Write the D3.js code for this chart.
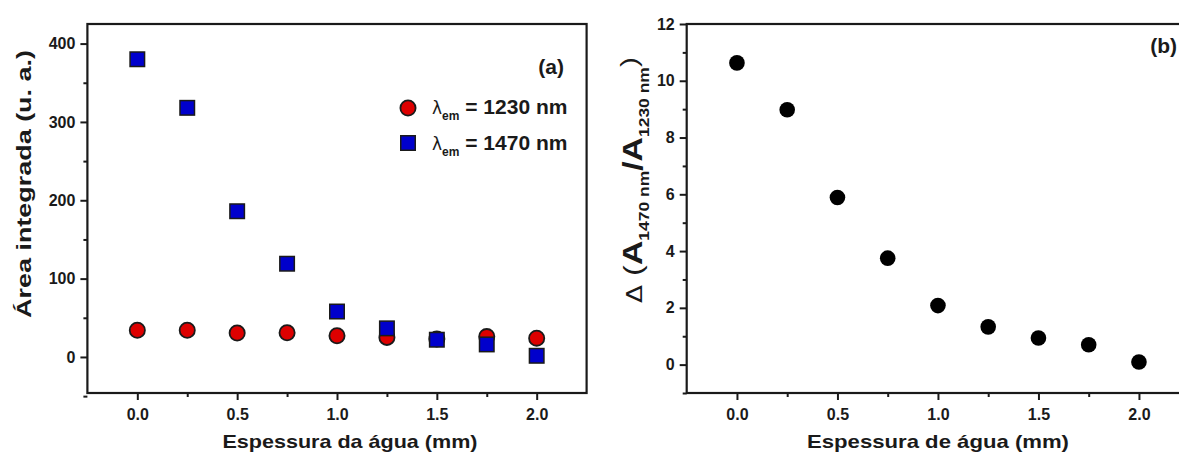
<!DOCTYPE html>
<html>
<head>
<meta charset="utf-8">
<script src="https://cdn.jsdelivr.net/npm/d3@7"></script>
<style>
  html, body { margin: 0; padding: 0; background: #ffffff; }
  svg { display: block; }
  text { font-family: "Liberation Sans", Arial, sans-serif; font-weight: bold; fill: #1a1a1a; }
</style>
</head>
<body>
<svg id="chart" width="1179" height="452"></svg>
<script>
// ---- data ----
const thickness = [0, 0.25, 0.5, 0.75, 1.0, 1.25, 1.5, 1.75, 2.0];
const area1230 = [34, 34, 30.5, 31, 27, 25, 23, 26, 24];
const area1470 = [380, 318, 186, 119, 58, 36.5, 22, 16, 1.5];
const deltaRatio = [10.63, 8.98, 5.89, 3.75, 2.08, 1.33, 0.94, 0.70, 0.09];

const xMajorTicks = [0, 0.5, 1.0, 1.5, 2.0];
const xMinorTicks = [0.25, 0.75, 1.25, 1.75];
const yMajorTicksA = [0, 100, 200, 300, 400];
const yMinorTicksA = [-50, 50, 150, 250, 350];
const yMajorTicksB = [0, 2, 4, 6, 8, 10, 12];
const yMinorTicksB = [-1, 1, 3, 5, 7, 9, 11];

const legendLabels = ["1230 nm", "1470 nm"];
const panelLabels = ["(a)", "(b)"];
const xTitleA = "Espessura da água (mm)";
const xTitleB = "Espessura de água (mm)";
const yTitleA = "Área integrada (u. a.)";

const svg = d3.select("#chart");
const ink = "#1a1a1a";

function drawAxes(g, x, y, yMaj, yMin, frameRight) {
  const [x0, x1] = x.range();
  const [yb, yt] = y.range();
  const bx = g.append("g").attr("transform", `translate(0,${yb})`)
    .call(d3.axisBottom(x).tickValues(xMajorTicks).tickFormat(d3.format(".1f")).tickSize(7).tickSizeOuter(0).tickPadding(9));
  const bxm = g.append("g").attr("transform", `translate(0,${yb})`)
    .call(d3.axisBottom(x).tickValues(xMinorTicks).tickFormat("").tickSize(4).tickSizeOuter(0));
  const ly = g.append("g").attr("transform", `translate(${x0},0)`)
    .call(d3.axisLeft(y).tickValues(yMaj).tickFormat(d3.format("d")).tickSize(7).tickSizeOuter(0).tickPadding(5));
  const lym = g.append("g").attr("transform", `translate(${x0},0)`)
    .call(d3.axisLeft(y).tickValues(yMin).tickFormat("").tickSize(4).tickSizeOuter(0));
  [bx, bxm, ly, lym].forEach(a => {
    a.select(".domain").remove();
    a.selectAll("line").attr("stroke", ink).attr("stroke-width", 2);
    a.selectAll("text").attr("font-size", 16).attr("font-family", "Liberation Sans, Arial, sans-serif")
      .attr("font-weight", "bold").attr("fill", ink);
  });
  g.append("rect").attr("x", x0).attr("y", yt).attr("width", frameRight - x0).attr("height", yb - yt)
    .attr("fill", "none").attr("stroke", ink).attr("stroke-width", 2.2);
}

// stretch a rotated title along its reading direction to a target length
function rotatedTitle(g, cx, cy, targetLen) {
  const grp = g.append("g");
  const t = grp.append("text").attr("text-anchor", "middle");
  return {
    text: t,
    finish() {
      const natural = t.node().getComputedTextLength();
      const k = targetLen / natural;
      grp.attr("transform", `translate(${cx},${cy}) rotate(-90) scale(${k},1)`);
    }
  };
}

// ---------------- Panel (a) ----------------
const xA = d3.scaleLinear().domain([-0.25, 2.25]).range([87.4, 586.6]);
const yA = d3.scaleLinear().domain([-46, 425]).range([393, 24]);
const gA = svg.append("g");
drawAxes(gA, xA, yA, yMajorTicksA, yMinorTicksA, 586.6);

const ptsA1230 = thickness.map((t, i) => ({ x: t, y: area1230[i] }));
const ptsA1470 = thickness.map((t, i) => ({ x: t, y: area1470[i] }));

gA.append("g").selectAll("circle").data(ptsA1230).join("circle")
  .attr("cx", d => xA(d.x)).attr("cy", d => yA(d.y)).attr("r", 7.6)
  .attr("fill", "#dd0000").attr("stroke", ink).attr("stroke-width", 1.8);
const sq = 14.5;
gA.append("g").selectAll("rect").data(ptsA1470).join("rect")
  .attr("x", d => xA(d.x) - sq / 2).attr("y", d => yA(d.y) - sq / 2)
  .attr("width", sq).attr("height", sq)
  .attr("fill", "#0000cc").attr("stroke", ink).attr("stroke-width", 1.5);

// legend
const leg = gA.append("g");
leg.append("circle").attr("cx", 408).attr("cy", 108).attr("r", 7.6)
  .attr("fill", "#dd0000").attr("stroke", ink).attr("stroke-width", 1.8);
leg.append("rect").attr("x", 408 - sq / 2).attr("y", 143 - sq / 2).attr("width", sq).attr("height", sq)
  .attr("fill", "#0000cc").attr("stroke", ink).attr("stroke-width", 1.5);
legendLabels.forEach((lab, i) => {
  const t = leg.append("text").attr("x", 432).attr("y", 114 + i * 36).attr("font-size", 21);
  t.append("tspan").text("λ").attr("font-weight", "normal").attr("font-size", 17).attr("font-family", "DejaVu Sans, sans-serif");
  t.append("tspan").text("em").attr("font-size", 12).attr("dy", 6);
  t.append("tspan").text(" = " + lab).attr("dy", -6);
});

gA.append("text").attr("x", 564).attr("y", 74).attr("text-anchor", "end").attr("font-size", 21).text(panelLabels[0]);

gA.append("text").attr("x", 350).attr("y", 448).attr("text-anchor", "middle").attr("font-size", 19)
  .attr("textLength", 255).attr("lengthAdjust", "spacingAndGlyphs").text(xTitleA);
const ytA = rotatedTitle(gA, 31, 184, 268);
ytA.text.attr("font-size", 20).text(yTitleA);
ytA.finish();

// ---------------- Panel (b) ----------------
const xB = d3.scaleLinear().domain([-0.25, 2.25]).range([686.7, 1189.2]);
const yB = d3.scaleLinear().domain([-1, 12]).range([393, 24]);
const gB = svg.append("g");
drawAxes(gB, xB, yB, yMajorTicksB, yMinorTicksB, 1189.2);

const ptsB = thickness.map((t, i) => ({ x: t, y: deltaRatio[i] }));
gB.append("g").selectAll("circle").data(ptsB).join("circle")
  .attr("cx", d => xB(d.x)).attr("cy", d => yB(d.y)).attr("r", 7.8)
  .attr("fill", "#000000");

gB.append("text").attr("x", 1177).attr("y", 53).attr("text-anchor", "end").attr("font-size", 21).text(panelLabels[1]);
gB.append("text").attr("x", 938).attr("y", 448).attr("text-anchor", "middle").attr("font-size", 19)
  .attr("textLength", 262).attr("lengthAdjust", "spacingAndGlyphs").text(xTitleB);

const ytB = rotatedTitle(gB, 642, 180, 246);
const yt = ytB.text;
yt.append("tspan").text("Δ").attr("font-weight", "normal").attr("font-size", 21).attr("font-family", "DejaVu Sans, sans-serif");
yt.append("tspan").text(" (").attr("font-weight", "normal").attr("font-size", 26);
yt.append("tspan").text("A").attr("font-size", 27);
yt.append("tspan").text("1470 nm").attr("font-size", 14).attr("dy", 7);
yt.append("tspan").text("/A").attr("font-size", 27).attr("dy", -7);
yt.append("tspan").text("1230 nm").attr("font-size", 14).attr("dy", 7);
yt.append("tspan").text(")").attr("font-weight", "normal").attr("font-size", 24).attr("dy", -12);
ytB.finish();
</script>
</body>
</html>
